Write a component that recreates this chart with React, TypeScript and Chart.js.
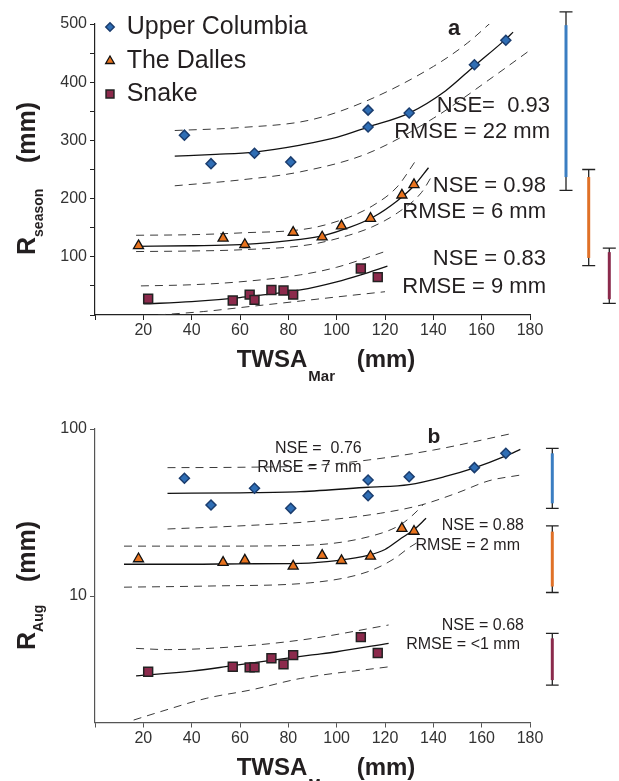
import React, { useEffect, useRef } from 'react';
import { Chart, registerables } from 'chart.js';
Chart.register(...registerables);

const FONT = '"Liberation Sans", Arial, Helvetica, sans-serif';
const TXT = '#231f20';

// ---------- shared x values (TWSA in March, mm) ----------
const TWSA_UC = [37, 48, 66, 81, 113, 113, 130, 157, 170];
const TWSA_TD = [18, 53, 62, 82, 94, 102, 114, 127, 132];
const TWSA_SN = [22, 57, 64, 66, 73, 78, 82, 110, 117];

// ---------- panel a : seasonal runoff (mm) ----------
const RSEASON_UC = [309, 260, 278, 263, 352, 323, 347, 430, 472];
const RSEASON_TD = [119, 132, 121, 142, 134, 153, 166, 206, 224];
const RSEASON_SN = [28, 25, 35, 26, 43, 42, 35, 80, 65];

const A_UC_FIT_X = [33, 50, 66, 85, 100, 113, 130, 145, 157, 170, 173];
const A_UC_FIT_Y = [273, 276, 280, 292, 305, 323, 347, 385, 428, 474, 486];
const A_UC_UP_X = [33, 60, 89, 113, 140, 154, 165];
const A_UC_UP_Y = [317, 322, 335, 369, 427, 467, 507];
const A_UC_LO_X = [33, 60, 85, 113, 140, 165, 180];
const A_UC_LO_Y = [222, 232, 246, 278, 338, 410, 455];

const A_TD_FIT_X = [17, 40, 60, 85, 95, 105, 115, 125, 132, 138];
const A_TD_FIT_Y = [118, 119, 121, 130, 137, 150, 168, 196, 222, 253];
const A_TD_UP_X = [17, 40, 60, 89, 105, 115, 125, 133];
const A_TD_UP_Y = [137, 138, 141, 149, 168, 188, 220, 267];
const A_TD_LO_X = [17, 40, 60, 89, 105, 115, 125, 135, 140];
const A_TD_LO_Y = [109, 110, 112, 121, 137, 152, 175, 210, 243];

const A_SN_FIT_X = [20, 40, 60, 85, 100, 110, 121];
const A_SN_FIT_Y = [19, 23, 30, 43, 57, 69, 84];
const A_SN_UP_X = [19, 40, 60, 85, 100, 120];
const A_SN_UP_Y = [50, 52, 57, 69, 82, 109];
const A_SN_LO_X = [26, 45, 65, 85, 100, 120];
const A_SN_LO_Y = [0, 6, 15, 24, 31, 40];

const A_RANGE_HI = [521, 250, 115];
const A_RANGE_LO = [214, 85, 20];
const A_BAR_HI = [498, 237, 108];
const A_BAR_LO = [237, 98, 27];

// ---------- panel b : August runoff (mm, log) ----------
const RAUG_UC = [50.7, 35.1, 44.2, 33.5, 49.5, 39.9, 51.8, 58.7, 71.5];
const RAUG_TD = [16.7, 15.9, 16.4, 15.1, 17.5, 16.3, 17.3, 25.4, 24.4];
const RAUG_SN = [3.52, 3.77, 3.74, 3.74, 4.24, 3.9, 4.43, 5.68, 4.56];

const B_UC_FIT_X = [30, 60, 85, 113, 130, 145, 157, 170, 176];
const B_UC_FIT_Y = [41.2, 41.5, 42.2, 44.8, 46.5, 52, 58.5, 69, 75.6];
const B_UC_UP_X = [30, 60, 89, 113, 140, 173];
const B_UC_UP_Y = [58.7, 59, 60.3, 65.2, 74.8, 94.3];
const B_UC_LO_X = [30, 60, 89, 118, 135, 150, 163, 176];
const B_UC_LO_Y = [25.2, 26.3, 27.9, 31.3, 35.1, 41.5, 49, 53];

const B_TD_FIT_X = [12, 40, 60, 85, 100, 113, 120, 126, 132, 137];
const B_TD_FIT_Y = [15.5, 15.5, 15.6, 15.7, 16.3, 17.5, 19, 21.8, 25, 29.2];
const B_TD_UP_X = [12, 50, 89, 113, 126, 132, 136];
const B_TD_UP_Y = [19.9, 19.9, 20.2, 22.6, 26.5, 31, 35.5];
const B_TD_LO_X = [12, 50, 89, 113, 124, 130, 135];
const B_TD_LO_Y = [11.3, 11.5, 12.0, 14.0, 16.8, 19.5, 21.6];

const B_SN_FIT_X = [17, 40, 57, 89, 100, 121.5];
const B_SN_FIT_Y = [3.33, 3.55, 3.83, 4.43, 4.64, 5.21];
const B_SN_UP_X = [17, 30, 60, 89, 121.5];
const B_SN_UP_Y = [4.86, 4.78, 5.0, 5.55, 6.71];
const B_SN_LO_X = [16, 27, 46, 65, 85, 121.5];
const B_SN_LO_Y = [1.81, 2.03, 2.44, 2.75, 3.21, 3.77];

const B_RANGE_HI = [76.6, 26.3, 5.98];
const B_RANGE_LO = [33.5, 10.5, 2.93];
const B_BAR_HI = [71.5, 24.3, 5.58];
const B_BAR_LO = [35.9, 11.4, 3.14];

const SERIES_NAMES = ['Upper Columbia', 'The Dalles', 'Snake'];
const A_NOTES = ['NSE=  0.93', 'RMSE = 22 mm', 'NSE = 0.98', 'RMSE = 6 mm', 'NSE = 0.83', 'RMSE = 9 mm'];
const B_NOTES = ['NSE =  0.76', 'RMSE = 7 mm', 'NSE = 0.88', 'RMSE = 2 mm', 'NSE = 0.68', 'RMSE = <1 mm'];

// ---------- styles ----------
const STYLES = [
  { shape: 'rectRot', r: 5, bg: '#2f6eb5', border: '#1b3d6e', bw: 1.5, lr: 4.2 },
  { shape: 'triangle', r: 5.8, bg: '#e8731e', border: '#111', bw: 1.3, lr: 5 },
  { shape: 'rect', r: 6.3, bg: '#8c2a4c', border: '#222', bw: 1.5, lr: 5.6 },
];
const BAR_COLORS = ['#3b7ec2', '#e07128', '#8b2a4c'];

const pts = (xs: number[], ys: number[]) => xs.map((x, i) => ({ x, y: ys[i] }));

const pointDs = (i: number, xs: number[], ys: number[]) => {
  const s = STYLES[i];
  return {
    label: SERIES_NAMES[i],
    data: pts(xs, ys),
    showLine: false,
    pointStyle: s.shape,
    pointRadius: s.r,
    pointHoverRadius: s.r,
    pointBackgroundColor: s.bg,
    pointBorderColor: s.border,
    pointBorderWidth: s.bw,
    clip: 10,
  };
};

const lineDs = (xs: number[], ys: number[], dashed: boolean) => ({
  data: pts(xs, ys),
  showLine: true,
  pointRadius: 0,
  pointHoverRadius: 0,
  borderColor: dashed ? '#3a3a3a' : '#111',
  borderWidth: dashed ? 1 : 1.3,
  borderDash: dashed ? [8, 6] : [],
  cubicInterpolationMode: 'monotone',
  fill: false,
});

function drawMarker(ctx: CanvasRenderingContext2D, i: number, x: number, y: number, r: number) {
  const s = STYLES[i];
  ctx.save();
  ctx.beginPath();
  if (s.shape === 'rectRot') {
    ctx.moveTo(x, y - r); ctx.lineTo(x + r, y); ctx.lineTo(x, y + r); ctx.lineTo(x - r, y); ctx.closePath();
  } else if (s.shape === 'triangle') {
    ctx.moveTo(x, y - r); ctx.lineTo(x + r * 0.866, y + r * 0.5); ctx.lineTo(x - r * 0.866, y + r * 0.5); ctx.closePath();
  } else {
    const h = r * Math.SQRT1_2;
    ctx.rect(x - h, y - h, 2 * h, 2 * h);
  }
  ctx.fillStyle = s.bg; ctx.fill();
  ctx.lineWidth = s.bw; ctx.strokeStyle = s.border; ctx.stroke();
  ctx.restore();
}

function yTitle(ctx: CanvasRenderingContext2D, x: number, y: number, sub: string, mmStart: number) {
  ctx.save();
  ctx.translate(x, y);
  ctx.rotate(-Math.PI / 2);
  ctx.fillStyle = TXT; ctx.textBaseline = 'alphabetic'; ctx.textAlign = 'left';
  ctx.font = `bold 25px ${FONT}`;
  ctx.fillText('R', 0, 0);
  const w = ctx.measureText('R').width;
  ctx.font = `bold 14px ${FONT}`;
  ctx.fillText(sub, w, 8);
  ctx.font = `bold 25px ${FONT}`;
  ctx.fillText('(mm)', mmStart, 0);
  ctx.restore();
}

function xTitle(ctx: CanvasRenderingContext2D, base: number) {
  ctx.save();
  ctx.fillStyle = TXT; ctx.textBaseline = 'alphabetic'; ctx.textAlign = 'left';
  ctx.font = `bold 24px ${FONT}`;
  ctx.fillText('TWSA', 236.7, base);
  const w = ctx.measureText('TWSA').width;
  ctx.font = `bold 15px ${FONT}`;
  ctx.fillText('Mar', 236.7 + w + 1, base + 14);
  ctx.font = `bold 24px ${FONT}`;
  ctx.fillText('(mm)', 356.7, base);
  ctx.restore();
}

function rangeBars(chart: any, xs: number[], hi: number[], lo: number[], bhi: number[], blo: number[], cap: number) {
  const ctx = chart.ctx as CanvasRenderingContext2D;
  const ys = chart.scales.y;
  ctx.save();
  for (let i = 0; i < hi.length; i++) {
    const x = xs[i];
    const y1 = ys.getPixelForValue(hi[i]);
    const y2 = ys.getPixelForValue(lo[i]);
    ctx.strokeStyle = '#222'; ctx.lineWidth = 1.3;
    ctx.beginPath();
    ctx.moveTo(x, y1); ctx.lineTo(x, y2);
    ctx.moveTo(x - cap / 2, y1); ctx.lineTo(x + cap / 2, y1);
    ctx.moveTo(x - cap / 2, y2); ctx.lineTo(x + cap / 2, y2);
    ctx.stroke();
    ctx.strokeStyle = BAR_COLORS[i]; ctx.lineWidth = 3;
    ctx.beginPath();
    ctx.moveTo(x, ys.getPixelForValue(bhi[i])); ctx.lineTo(x, ys.getPixelForValue(blo[i]));
    ctx.stroke();
  }
  ctx.restore();
}

function notes(ctx: CanvasRenderingContext2D, list: string[], xs: number[], ys: number[], size: number) {
  ctx.save();
  ctx.fillStyle = TXT; ctx.textAlign = 'right'; ctx.textBaseline = 'alphabetic';
  ctx.font = `${size}px ${FONT}`;
  list.forEach((t, i) => ctx.fillText(t, xs[i], ys[i]));
  ctx.restore();
}

const tickFont = { family: FONT, size: 16 };

function axisCommon(color: string) {
  return {
    grid: { display: true, drawOnChartArea: false, drawTicks: true, tickLength: 5, color, tickWidth: 1 },
    border: { display: true, color, width: 1.2 },
  };
}

export default function App() {
  const refA = useRef<HTMLCanvasElement>(null);
  const refB = useRef<HTMLCanvasElement>(null);

  useEffect(() => {
    const pluginA = {
      id: 'decorA',
      beforeDatasetsDraw(chart: any) {
        const ctx = chart.ctx;
        notes(ctx, A_NOTES, [550, 550, 546, 546, 546, 546], [111.7, 138.3, 191.7, 218.3, 265, 292.7], 22);
      },
      afterDraw(chart: any) {
        const ctx = chart.ctx as CanvasRenderingContext2D;
        const r = chart.chartArea.right;
        rangeBars(chart, [r + 36, r + 58.7, r + 79.3], A_RANGE_HI, A_RANGE_LO, A_BAR_HI, A_BAR_LO, 13);
        // legend
        const ly = [27, 61, 94];
        const lb = [33.5, 68.3, 100.5];
        ctx.save();
        ctx.fillStyle = TXT; ctx.textAlign = 'left'; ctx.textBaseline = 'alphabetic';
        ctx.font = `25px ${FONT}`;
        SERIES_NAMES.forEach((n, i) => {
          drawMarker(ctx, i, 110, ly[i], STYLES[i].lr);
          ctx.fillStyle = TXT;
          ctx.fillText(n, 126.7, lb[i]);
        });
        ctx.font = `bold 22px ${FONT}`;
        ctx.fillText('a', 448, 35);
        ctx.restore();
        yTitle(ctx, 35, 255, 'season', 92);
        xTitle(ctx, 367.3);
      },
    };

    const pluginB = {
      id: 'decorB',
      beforeDatasetsDraw(chart: any) {
        const ctx = chart.ctx;
        notes(ctx, B_NOTES, [361.7, 361.7, 524, 520, 524, 520], [62.7, 81.7, 140, 160, 240, 259.3], 16);
      },
      afterDraw(chart: any) {
        const ctx = chart.ctx as CanvasRenderingContext2D;
        const r = chart.chartArea.right;
        rangeBars(chart, [r + 22.3, r + 22.3, r + 22.3], B_RANGE_HI, B_RANGE_LO, B_BAR_HI, B_BAR_LO, 12.7);
        ctx.save();
        ctx.fillStyle = TXT; ctx.textAlign = 'left'; ctx.textBaseline = 'alphabetic';
        ctx.font = `bold 21px ${FONT}`;
        ctx.fillText('b', 427.5, 53);
        ctx.restore();
        yTitle(ctx, 35, 260, 'Aug', 68);
        xTitle(ctx, 385);
      },
    };

    const chartA = new Chart(refA.current as HTMLCanvasElement, {
      type: 'scatter',
      data: {
        datasets: [
          pointDs(0, TWSA_UC, RSEASON_UC),
          pointDs(1, TWSA_TD, RSEASON_TD),
          pointDs(2, TWSA_SN, RSEASON_SN),
          lineDs(A_UC_FIT_X, A_UC_FIT_Y, false),
          lineDs(A_UC_UP_X, A_UC_UP_Y, true),
          lineDs(A_UC_LO_X, A_UC_LO_Y, true),
          lineDs(A_TD_FIT_X, A_TD_FIT_Y, false),
          lineDs(A_TD_UP_X, A_TD_UP_Y, true),
          lineDs(A_TD_LO_X, A_TD_LO_Y, true),
          lineDs(A_SN_FIT_X, A_SN_FIT_Y, false),
          lineDs(A_SN_UP_X, A_SN_UP_Y, true),
          lineDs(A_SN_LO_X, A_SN_LO_Y, true),
        ] as any,
      },
      options: {
        animation: false,
        responsive: false,
        events: [],
        layout: { padding: { top: 24, right: 89, left: 0, bottom: 0 } },
        plugins: { legend: { display: false }, tooltip: { enabled: false } },
        scales: {
          x: {
            type: 'linear', min: 0, max: 180,
            afterFit: (s: any) => { s.height = 75; },
            ticks: {
              stepSize: 20, autoSkip: false, maxRotation: 0, padding: 1, color: '#333', font: tickFont,
              callback: (v: any) => (v === 0 ? '' : String(v)),
            },
            ...axisCommon('#222'),
          },
          y: {
            type: 'linear', min: 0, max: 500,
            afterFit: (s: any) => { s.width = 95; },
            ticks: {
              stepSize: 50, autoSkip: false, padding: 3, color: '#333', font: tickFont,
              callback: (v: any) => (v % 100 === 0 && v !== 0 ? String(v) : ''),
            },
            ...axisCommon('#222'),
          },
        },
      } as any,
      plugins: [pluginA],
    });

    const chartB = new Chart(refB.current as HTMLCanvasElement, {
      type: 'scatter',
      data: {
        datasets: [
          pointDs(0, TWSA_UC, RAUG_UC),
          pointDs(1, TWSA_TD, RAUG_TD),
          pointDs(2, TWSA_SN, RAUG_SN),
          lineDs(B_UC_FIT_X, B_UC_FIT_Y, false),
          lineDs(B_UC_UP_X, B_UC_UP_Y, true),
          lineDs(B_UC_LO_X, B_UC_LO_Y, true),
          lineDs(B_TD_FIT_X, B_TD_FIT_Y, false),
          lineDs(B_TD_UP_X, B_TD_UP_Y, true),
          lineDs(B_TD_LO_X, B_TD_LO_Y, true),
          lineDs(B_SN_FIT_X, B_SN_FIT_Y, false),
          lineDs(B_SN_UP_X, B_SN_UP_Y, true),
          lineDs(B_SN_LO_X, B_SN_LO_Y, true),
        ] as any,
      },
      options: {
        animation: false,
        responsive: false,
        events: [],
        layout: { padding: { top: 39, right: 89, left: 0, bottom: 0 } },
        plugins: { legend: { display: false }, tooltip: { enabled: false } },
        scales: {
          x: {
            type: 'linear', min: 0, max: 180,
            afterFit: (s: any) => { s.height = 58.5; },
            ticks: {
              stepSize: 20, autoSkip: false, maxRotation: 0, padding: 1, color: '#333', font: tickFont,
              callback: (v: any) => (v === 0 ? '' : String(v)),
            },
            ...axisCommon('#555'),
          },
          y: {
            type: 'logarithmic', min: 1.75, max: 100,
            afterFit: (s: any) => { s.width = 95; },
            afterBuildTicks: (s: any) => { s.ticks = [{ value: 10 }, { value: 100 }]; },
            ticks: {
              autoSkip: false, padding: 3, color: '#333', font: tickFont,
              callback: (v: any) => String(v),
            },
            ...axisCommon('#555'),
          },
        },
      } as any,
      plugins: [pluginB],
    });

    return () => {
      chartA.destroy();
      chartB.destroy();
    };
  }, []);

  return (
    <div style={{ position: 'absolute', left: 0, top: 0, width: 619, height: 781, background: '#fff' }}>
      <canvas ref={refA} width={619} height={390} style={{ position: 'absolute', left: 0, top: 0, width: 619, height: 390 }} />
      <canvas ref={refB} width={619} height={391} style={{ position: 'absolute', left: 0, top: 390, width: 619, height: 391 }} />
    </div>
  );
}
